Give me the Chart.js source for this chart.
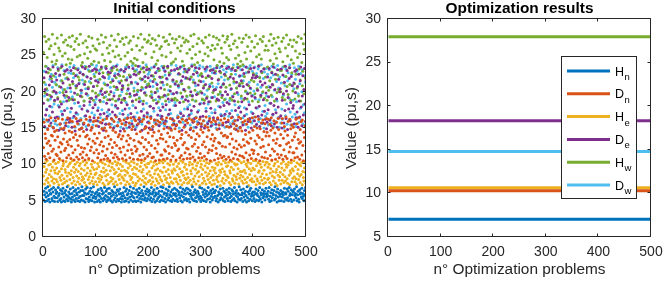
<!DOCTYPE html>
<html><head><meta charset="utf-8">
<script src="https://cdn.jsdelivr.net/npm/chart.js@4/dist/chart.umd.min.js"></script>
<style>
html,body{margin:0;padding:0;background:#fff;overflow:hidden;}
#wrap{position:relative;width:664px;height:281px;overflow:hidden;}
#c1{position:absolute;left:-13px;top:0;}
#c2{position:absolute;left:332px;top:0;}
</style></head><body>
<div id="wrap"><canvas id="c1" width="345" height="281"></canvas><canvas id="c2" width="332" height="281"></canvas></div>
<script>
// ---- Data ----
const xTicks = [0,100,200,300,400,500];
const yTicksLeft = [0,5,10,15,20,25,30];
const yTicksRight = [5,10,15,20,25,30];
const seriesNames = ['Hn','Dn','He','De','Hw','Dw'];
const legendMain = ['H','D','H','D','H','D'];
const legendSub = ['n','n','e','e','w','w'];

// Initial conditions (500 optimization problems each)
const initHn = [
5.1,6.3,5.8,4.9,6.7,5.5,6.1,5.0,6.9,5.7,5.2,6.4,4.8,6.0,5.9,6.6,5.3,5.0,6.2,6.8,5.6,4.9,5.4,6.5,6.0,
6.2,5.4,4.9,6.8,5.7,6.0,5.1,6.5,5.3,4.8,6.3,5.9,6.7,5.0,5.5,6.1,4.9,6.4,5.8,5.2,6.9,5.6,5.0,6.2,5.4,
5.9,6.6,5.2,4.8,6.0,5.5,6.8,5.1,6.3,5.7,4.9,6.5,5.3,6.1,5.8,5.0,6.7,5.4,6.2,4.9,5.6,6.4,5.1,6.9,5.7,
6.4,5.0,5.7,6.1,4.8,6.6,5.3,5.9,6.8,5.2,6.0,4.9,5.5,6.3,5.1,6.7,5.8,5.0,6.2,5.4,6.9,5.6,4.8,6.0,5.3,
5.5,6.2,4.9,5.8,6.5,5.1,6.0,5.6,4.8,6.7,5.3,6.4,5.9,5.0,6.1,5.4,6.8,5.2,5.7,6.3,4.9,6.6,5.5,5.1,6.0,
6.7,5.3,6.0,5.0,5.6,6.4,4.8,6.2,5.8,5.1,6.9,5.4,6.1,4.9,5.7,6.5,5.2,6.3,5.0,5.9,6.6,5.3,6.0,4.8,5.6,
5.2,6.1,5.7,6.8,4.9,5.4,6.3,5.0,6.6,5.8,5.3,6.0,4.8,6.4,5.5,6.9,5.1,5.9,6.2,5.6,4.9,6.7,5.4,6.1,5.0,
6.0,4.9,6.5,5.5,6.2,5.0,5.8,6.7,5.3,6.1,4.8,5.6,6.4,5.2,6.0,5.7,6.9,5.1,5.4,6.3,5.9,5.0,6.6,5.3,6.2,
5.7,6.4,5.1,6.0,5.4,6.8,4.9,5.9,6.2,5.2,6.5,5.6,4.8,6.1,5.8,5.0,6.7,5.3,6.0,5.5,6.3,4.9,5.7,6.9,5.1,
6.3,5.5,6.8,5.0,5.9,6.1,5.3,4.8,6.6,5.7,6.0,5.1,6.4,5.4,6.9,5.8,5.0,6.2,5.6,4.9,6.5,5.2,6.0,5.8,6.7,
5.0,6.0,5.6,6.5,5.2,4.9,6.3,5.8,6.1,5.4,6.8,5.0,5.7,6.2,4.8,6.6,5.5,6.0,5.1,6.4,5.9,5.3,6.7,5.0,6.1,
6.6,5.2,5.9,4.8,6.4,5.6,6.0,5.3,6.9,5.1,5.8,6.2,5.0,6.5,5.4,6.1,4.9,5.7,6.3,5.5,6.0,5.2,6.8,5.6,4.9,
5.4,6.7,5.1,6.2,5.8,5.0,6.5,5.5,6.0,4.9,6.3,5.7,5.2,6.8,5.9,6.1,5.3,4.8,6.4,5.6,6.0,5.1,6.6,5.4,6.2,
6.1,5.6,6.4,5.0,5.3,6.9,5.7,4.8,6.2,5.9,5.1,6.6,5.4,6.0,5.8,5.2,6.7,5.0,6.3,5.5,4.9,6.1,5.7,6.5,5.3,
5.8,5.0,6.2,6.7,5.4,6.0,4.9,5.6,6.5,5.1,6.3,5.9,5.3,6.8,5.0,6.1,5.7,6.4,4.8,5.5,6.0,5.2,6.9,5.8,5.1,
6.5,5.3,5.8,6.1,4.9,6.6,5.5,6.0,5.1,6.3,5.7,4.8,6.9,5.4,6.2,5.0,5.9,6.4,5.2,6.7,5.6,6.0,5.0,6.2,5.7,
5.3,6.2,4.9,5.9,6.6,5.1,6.0,5.7,6.4,5.0,5.5,6.8,5.2,6.1,5.8,4.8,6.5,5.4,6.0,5.6,6.3,5.1,5.9,6.7,5.5,
6.0,5.7,6.3,5.2,6.8,4.9,5.6,6.1,5.0,6.5,5.4,6.0,5.8,6.4,5.1,6.9,5.3,5.7,6.2,4.8,6.6,5.5,6.1,5.0,5.9,
5.6,6.4,5.0,6.0,5.5,6.2,5.8,4.9,6.7,5.3,6.1,5.9,5.1,6.6,5.4,6.3,5.0,6.8,5.7,6.0,5.2,6.5,4.9,5.8,6.3,
6.2,5.1,6.6,5.7,6.0,5.4,6.9,5.0,5.8,6.3,5.2,4.8,6.5,5.9,6.1,5.5,6.7,5.3,6.0,5.6,5.0,6.4,5.8,6.8,5.2];

const initDn = [
12.3,15.8,11.1,14.2,13.6,10.7,16.1,12.9,14.8,11.5,13.2,15.3,10.9,12.6,16.4,14.0,11.8,13.9,15.1,12.1,10.6,14.5,13.3,16.0,11.4,
14.7,11.2,13.8,16.3,12.4,10.8,15.5,13.0,11.7,14.9,12.8,16.2,10.5,13.5,15.0,11.9,14.3,12.2,15.7,10.9,13.1,16.4,12.7,11.3,14.6,
13.4,16.0,10.8,12.5,14.4,15.9,11.6,13.7,10.6,15.2,12.0,14.1,16.3,11.0,13.3,15.6,12.6,10.7,14.8,13.9,11.4,16.1,12.3,15.0,10.9,
11.7,14.5,15.7,12.2,10.6,13.8,16.2,11.3,14.0,12.8,15.4,10.8,13.5,16.5,11.9,14.7,12.4,15.1,10.5,13.2,15.9,11.6,14.2,12.9,16.0,
15.3,12.0,13.6,10.9,16.4,11.5,14.3,12.7,15.8,10.6,13.1,14.9,11.8,16.1,12.5,10.7,15.0,13.7,11.2,14.6,16.3,12.1,10.8,13.9,15.5,
12.8,10.5,15.1,13.4,11.6,16.2,12.3,14.7,10.9,15.9,13.0,11.4,14.4,16.5,12.6,11.0,15.3,13.8,10.7,14.1,12.2,16.0,11.7,13.5,15.6,
10.8,13.9,12.4,16.1,14.6,11.3,15.4,10.6,13.2,16.3,11.9,14.0,12.7,15.7,10.9,13.6,16.4,12.0,14.8,11.5,15.2,10.7,13.3,16.2,12.5,
16.0,11.8,14.2,12.1,10.7,15.6,13.1,16.4,11.2,14.5,12.9,10.6,15.9,13.7,11.4,16.2,12.4,14.9,10.8,13.4,15.1,12.0,16.5,11.1,14.3,
13.0,15.7,11.5,14.8,16.3,12.6,10.9,13.9,15.2,11.0,14.4,16.1,12.2,10.5,15.5,13.3,11.7,16.0,12.8,14.6,10.6,15.8,13.6,11.3,14.1,
11.3,16.2,13.5,10.7,14.9,12.0,15.6,11.8,13.1,16.4,10.8,14.3,12.5,15.0,11.5,13.8,16.3,10.6,14.7,12.3,15.4,11.1,13.7,16.0,12.9,
14.9,12.6,10.6,15.4,13.3,11.9,16.5,12.1,14.5,10.9,15.8,13.6,11.2,14.1,16.2,12.7,10.7,15.1,13.0,11.6,16.0,14.4,12.2,10.8,15.7,
12.1,14.0,16.3,11.4,10.8,15.0,13.7,16.1,12.5,11.0,14.6,15.9,12.8,10.6,13.4,16.4,11.8,14.2,15.5,12.3,10.9,13.9,16.2,11.5,14.8,
15.6,10.9,12.7,14.4,16.0,13.1,11.1,15.3,12.4,16.5,10.7,13.8,15.1,11.6,14.7,12.0,16.3,10.5,13.5,15.8,11.9,14.1,12.6,16.1,13.2,
10.6,13.6,15.9,12.2,11.5,14.8,16.4,10.8,13.0,15.4,12.9,11.3,16.1,14.3,10.9,12.5,15.7,13.9,11.1,16.3,14.0,12.4,10.7,15.2,13.7,
13.8,16.1,11.0,15.1,12.8,10.6,14.2,16.4,11.7,13.5,15.6,10.8,12.3,14.9,16.0,11.4,13.2,15.3,12.1,10.7,14.6,16.5,12.7,11.2,15.0,
16.3,12.4,14.6,11.1,15.8,13.4,10.9,12.6,16.0,14.1,11.6,15.5,13.1,10.6,16.2,12.9,14.4,11.3,15.9,13.6,10.8,12.0,16.4,14.7,11.5,
11.9,15.2,13.2,16.5,10.7,12.8,15.0,14.0,11.4,16.2,13.7,10.5,14.9,12.3,15.7,11.0,13.4,16.1,12.5,14.5,10.9,15.6,11.7,13.9,16.3,
14.4,10.8,16.2,12.7,13.9,15.5,11.2,14.7,16.4,10.6,12.1,15.0,13.3,16.0,11.8,14.3,10.7,12.9,15.8,13.5,11.4,16.3,14.8,10.9,12.6,
12.6,14.1,11.3,15.7,16.3,10.7,13.6,12.0,15.2,14.6,11.1,16.5,12.8,10.8,14.0,15.9,13.0,11.7,16.2,12.4,14.9,10.6,15.4,13.3,11.6,
15.1,11.6,13.8,10.9,14.3,16.2,12.2,15.6,11.0,13.4,16.4,12.9,10.7,14.8,13.1,15.9,11.3,16.1,12.6,10.5,14.4,13.7,15.3,11.8,16.0];

const initHe = [
8.4,9.7,7.3,10.2,8.9,7.8,9.3,10.5,8.1,7.5,9.9,8.6,7.1,10.0,9.1,8.3,7.7,9.6,10.4,8.0,7.4,9.2,8.8,10.1,7.9,
9.5,7.6,8.7,10.3,7.2,9.0,8.2,10.6,7.8,9.4,8.5,7.3,9.8,10.1,8.0,7.5,9.3,8.9,10.4,7.7,8.4,9.7,7.1,8.8,10.0,
7.9,10.2,8.6,9.1,7.4,10.5,8.2,9.6,7.7,8.9,10.0,7.2,9.3,8.4,10.3,7.6,9.0,8.1,9.8,7.3,10.1,8.7,9.4,7.8,8.3,
10.4,8.0,9.2,7.5,9.9,8.5,7.1,10.2,8.8,9.5,7.9,10.6,8.3,7.4,9.1,8.7,10.0,7.7,9.6,8.2,7.3,9.3,10.3,8.6,7.6,
8.8,9.4,7.2,10.1,8.1,9.7,7.6,8.5,10.4,7.9,9.0,8.3,10.2,7.4,9.5,8.9,7.1,10.0,8.4,9.2,7.8,10.5,8.6,7.3,9.8,
7.5,10.3,9.1,8.2,7.7,9.6,10.1,8.0,7.3,9.3,8.7,10.4,7.6,8.9,9.9,7.2,10.2,8.4,9.4,7.9,8.6,10.0,7.4,9.1,8.3,
9.7,8.1,10.5,7.8,9.2,8.5,7.2,10.3,9.0,7.6,8.8,9.5,10.1,7.3,8.4,9.8,7.9,10.4,8.2,9.3,7.5,8.7,10.2,9.6,7.1,
8.6,7.4,9.4,10.0,8.3,7.7,10.6,9.1,8.0,9.7,7.2,10.2,8.9,7.8,9.3,8.4,10.5,7.5,9.9,8.1,7.3,9.6,8.7,10.1,7.6,
10.1,9.0,7.8,8.5,10.4,7.3,9.5,8.2,7.6,9.8,10.3,8.7,7.1,9.2,8.0,10.0,7.7,9.4,8.6,7.4,10.2,8.3,9.1,7.9,10.5,
7.7,8.9,10.2,7.2,9.6,8.4,10.5,7.9,9.0,8.1,7.5,10.1,9.3,8.6,7.3,9.9,8.2,10.4,7.6,9.1,8.8,7.4,10.0,9.4,8.0,
9.2,10.4,8.0,7.6,9.7,8.6,7.3,10.1,8.3,9.4,7.8,10.5,8.9,7.2,9.0,10.3,8.5,7.5,9.6,8.1,10.0,7.9,9.3,8.7,7.4,
8.2,7.5,9.9,10.3,7.8,9.1,8.7,7.2,10.0,9.5,8.0,7.6,10.4,8.4,9.3,7.3,9.8,8.8,10.2,7.7,9.0,8.3,7.1,10.5,9.6,
10.0,8.6,7.4,9.3,8.1,10.5,7.7,9.8,8.9,7.3,10.2,8.4,9.5,7.9,8.7,10.1,7.5,9.1,8.2,10.4,7.2,9.6,8.5,7.8,9.2,
7.3,9.5,8.8,10.1,7.9,8.3,9.9,7.6,10.3,8.5,9.2,7.1,8.9,10.0,7.7,9.4,8.1,10.5,7.4,9.0,8.6,10.2,7.8,9.7,8.4,
9.8,8.2,10.3,7.5,9.1,8.8,7.2,9.6,10.4,8.0,7.7,9.3,8.5,10.1,7.4,9.9,8.3,7.9,10.0,8.7,9.4,7.3,10.5,8.1,9.0,
8.5,10.2,7.7,9.0,8.3,7.4,10.4,9.2,7.9,8.8,10.0,7.5,9.7,8.2,10.3,7.1,9.4,8.6,7.8,10.1,9.1,8.0,7.6,9.5,10.5,
7.6,9.3,8.4,10.5,7.2,9.8,8.0,7.7,10.2,8.9,9.1,7.4,10.0,8.3,9.6,7.8,8.7,10.4,7.3,9.2,8.1,9.9,7.5,10.3,8.6,
10.3,7.9,9.6,8.1,10.0,7.5,8.8,9.4,7.2,10.5,8.4,9.0,7.7,9.8,8.2,10.1,7.4,8.9,9.3,7.1,10.4,8.5,9.7,7.8,8.3,
8.9,7.3,10.1,9.5,7.8,8.6,10.4,7.5,9.2,8.3,7.7,10.0,9.6,8.0,7.4,9.9,10.3,8.5,7.2,9.1,8.8,10.2,7.6,9.4,8.1,
9.1,10.5,8.3,7.6,9.7,8.0,7.3,10.2,8.7,9.3,7.9,10.0,8.4,7.5,9.8,8.6,10.3,7.2,9.0,8.2,7.7,9.5,10.4,8.9,7.4];

const initDe = [
18.4,21.9,15.2,20.3,16.8,22.7,17.5,19.6,14.9,23.2,16.1,20.9,18.0,22.1,15.7,19.3,21.4,17.2,23.4,15.0,20.1,18.8,16.4,22.5,19.9,
21.6,16.5,19.0,23.1,14.7,17.9,22.3,15.6,20.6,18.3,23.5,16.9,21.2,14.8,19.5,17.4,22.8,15.3,20.0,18.7,23.0,16.2,21.7,19.2,15.8,
16.3,20.5,22.9,17.7,15.1,21.4,18.9,23.3,16.6,19.8,14.6,22.2,17.1,20.8,15.9,23.0,18.5,21.1,16.0,22.6,19.4,14.9,20.2,17.6,23.4,
22.4,15.5,18.1,21.0,23.2,16.7,19.7,14.8,22.0,17.3,20.4,15.4,23.5,18.6,16.1,21.8,19.1,15.0,22.9,17.8,20.7,16.4,23.1,18.2,21.5,
19.3,23.0,16.0,17.4,21.3,15.2,22.5,18.8,16.9,20.1,23.4,15.7,19.6,22.1,14.7,17.0,21.9,19.9,15.5,23.2,18.4,16.6,20.9,22.7,17.5,
15.6,18.9,22.6,20.0,16.3,23.3,17.2,21.5,15.0,19.4,22.2,16.8,18.1,23.5,20.6,15.3,17.7,22.4,19.0,16.2,21.2,14.6,23.0,18.5,20.3,
20.8,16.9,14.9,22.8,19.1,17.6,23.1,15.8,21.6,18.2,16.4,20.4,23.4,15.1,19.7,22.0,17.0,21.3,15.6,18.7,23.2,16.5,22.4,19.5,14.8,
17.8,22.3,19.6,15.4,21.1,23.5,16.2,18.6,22.7,15.9,20.2,17.3,14.7,21.7,18.3,23.3,16.7,19.8,22.1,15.2,20.6,23.0,17.1,15.8,21.9,
23.1,15.0,20.7,18.0,16.5,22.2,19.2,14.8,21.4,17.7,23.4,16.1,19.9,22.6,15.6,18.4,21.0,16.8,23.2,19.3,15.3,22.0,17.4,20.5,16.3,
16.6,21.3,17.9,23.3,15.7,19.5,22.8,16.0,18.2,21.8,15.1,23.5,19.0,16.9,22.3,17.5,20.1,14.9,22.9,18.8,16.2,21.6,19.7,15.5,23.0,
21.1,18.1,15.3,19.9,23.2,16.4,20.8,22.5,15.9,18.5,23.4,17.0,21.5,14.7,19.3,22.1,16.7,20.3,23.1,15.4,18.9,21.9,16.1,22.7,17.6,
18.7,23.0,16.8,21.7,14.8,20.0,17.4,23.5,19.4,15.8,22.4,18.0,16.3,21.2,23.3,15.1,19.6,22.6,17.2,20.9,15.7,23.2,18.3,16.5,21.4,
15.2,19.8,22.1,16.6,20.5,18.4,15.0,23.1,21.0,17.3,19.1,23.4,15.6,22.2,18.6,16.0,20.7,22.9,17.7,15.3,21.8,19.2,23.0,16.4,20.2,
22.6,17.1,20.3,15.5,23.3,19.0,16.2,21.6,18.8,14.9,22.8,17.9,20.6,16.7,23.5,19.5,15.4,21.1,18.1,22.4,16.9,20.0,15.8,23.2,18.5,
19.6,15.9,23.4,18.3,17.0,22.0,15.2,20.4,23.1,16.5,19.3,21.8,15.6,18.7,22.9,17.4,14.8,21.3,19.9,16.1,23.3,17.8,20.8,22.2,15.1,
17.2,21.5,18.6,23.0,15.4,20.7,22.5,16.7,19.1,14.7,23.4,17.6,21.0,19.7,15.9,22.7,18.2,16.3,20.5,23.2,15.0,19.4,21.9,17.0,22.3,
23.3,16.0,19.2,21.9,17.8,15.5,22.1,20.2,16.6,23.5,18.0,15.2,21.4,19.5,22.8,16.8,20.9,15.7,18.9,23.1,17.3,21.2,16.2,19.8,14.9,
15.8,22.0,17.5,19.3,23.2,16.1,20.6,18.4,15.3,22.6,21.0,16.9,23.4,18.1,15.6,20.3,22.4,17.1,19.0,15.1,23.0,17.9,21.7,16.4,20.0,
20.4,16.7,23.1,15.0,18.8,22.3,19.7,15.7,21.3,17.4,23.5,16.3,20.1,22.9,14.8,19.2,17.6,21.8,23.3,16.0,18.5,22.1,15.4,20.8,17.7,
18.1,21.2,15.6,22.8,19.9,16.4,23.0,17.2,20.7,15.1,22.4,18.7,16.5,21.5,23.4,17.9,15.3,19.4,22.2,16.8,20.3,23.2,18.3,15.9,21.6];

const initHw = [
25.4,21.3,27.6,19.8,23.5,26.9,20.4,24.7,18.9,22.6,27.2,25.9,19.5,23.0,26.3,21.8,24.1,27.9,20.0,22.2,25.1,18.7,26.6,23.8,21.0,
24.3,27.4,19.2,22.9,26.0,20.7,25.6,18.6,23.3,27.8,21.5,24.9,19.9,26.8,22.4,20.3,25.3,27.1,23.7,19.4,21.9,26.4,24.5,18.8,27.5,
20.9,23.9,26.2,19.0,24.4,27.7,21.1,22.5,25.8,18.9,26.9,23.2,20.5,27.3,24.8,19.6,22.0,26.5,21.6,25.0,27.9,20.2,23.6,19.3,24.0,
26.7,22.3,18.7,25.2,21.4,27.0,23.4,19.7,26.1,24.6,20.6,27.6,22.8,19.1,25.5,21.2,23.8,27.4,20.1,26.3,18.8,24.2,22.1,25.9,19.8,
22.7,25.7,20.8,27.2,19.5,24.0,26.6,21.7,18.6,23.1,27.8,20.4,25.1,22.6,26.8,19.2,24.3,21.0,27.5,23.5,20.0,26.0,18.9,22.4,25.3,
19.6,26.4,24.1,21.3,27.7,22.9,19.0,25.6,23.3,20.7,27.1,24.8,18.7,21.9,26.2,23.0,20.3,27.9,25.0,19.4,22.2,26.9,24.5,21.5,18.9,
27.3,20.5,22.1,26.5,18.8,24.9,21.6,27.5,19.7,23.7,25.4,20.9,26.7,22.3,19.3,27.0,24.2,21.2,25.8,18.6,23.9,27.6,20.1,24.6,22.8,
23.6,18.9,26.3,24.4,20.2,27.4,22.5,19.1,25.7,21.8,27.9,23.1,20.6,26.1,24.0,18.7,22.7,27.2,21.4,25.2,19.5,23.4,26.8,20.8,27.0,
21.1,27.8,23.0,19.4,26.6,20.0,24.7,27.3,22.2,18.8,25.5,21.7,27.1,19.9,23.8,26.4,20.4,24.3,18.6,27.7,22.9,25.9,19.2,21.3,26.2,
25.0,22.0,19.3,27.5,23.5,20.3,26.9,18.7,24.8,27.0,21.0,23.3,19.6,26.5,22.6,27.9,20.7,25.4,23.9,19.0,27.3,21.6,24.1,18.9,26.7,
19.1,24.5,27.2,21.4,18.8,26.0,23.1,20.9,27.6,22.4,25.6,19.8,26.3,21.1,24.2,27.4,18.6,23.6,26.8,20.1,22.8,27.1,19.4,25.3,21.8,
26.9,20.6,23.2,25.8,19.5,27.7,22.0,24.6,18.9,26.2,21.3,27.9,23.7,20.2,25.1,18.7,22.7,26.6,24.0,19.7,27.3,21.5,25.5,22.3,20.0,
22.5,27.0,19.0,24.3,26.7,20.8,18.8,25.2,27.5,21.9,23.4,19.3,26.1,24.9,20.4,27.8,22.1,18.6,25.7,23.0,21.2,26.4,19.9,27.6,24.4,
20.3,25.9,22.8,18.7,27.4,23.6,26.5,19.6,21.7,27.1,24.1,20.0,22.6,26.0,19.2,25.3,27.7,21.0,23.9,18.9,26.8,22.2,20.6,24.7,27.2,
27.6,21.8,24.4,26.3,20.9,19.1,25.8,22.4,27.9,18.8,23.3,26.6,21.4,19.7,27.0,24.6,22.9,20.5,26.1,23.8,18.6,25.0,27.4,21.1,23.5,
24.2,19.4,26.8,21.2,23.7,27.3,18.9,22.1,25.4,20.1,27.8,24.5,19.0,26.2,22.7,20.8,27.5,23.1,19.8,25.6,21.6,26.9,18.7,24.0,22.5,
21.4,26.1,19.7,27.7,22.2,24.8,20.4,26.6,18.6,23.6,25.1,21.9,27.2,19.3,24.5,22.6,26.9,20.0,27.6,23.2,19.1,25.7,22.0,26.3,20.6,
18.8,23.4,25.7,20.2,27.0,21.5,24.3,27.9,19.5,22.7,26.4,20.9,23.8,27.3,18.7,25.2,21.7,26.7,24.6,19.9,22.3,27.5,20.3,25.9,23.0,
25.5,20.0,22.9,26.9,19.2,24.1,27.4,21.2,23.5,18.9,26.0,22.1,27.8,20.7,24.9,19.6,26.5,23.3,21.0,27.1,18.8,24.4,22.6,26.2,20.1,
23.9,27.1,21.1,19.0,25.6,22.4,26.8,20.5,24.7,27.6,19.4,23.1,25.2,21.6,18.7,27.3,24.0,20.8,22.8,26.6,19.7,25.8,27.9,21.9,25.5];

const initDw = [
16.2,22.8,19.4,15.1,21.0,23.5,17.6,20.2,15.9,18.8,23.1,16.7,21.7,19.0,15.3,22.4,17.9,20.6,23.6,16.0,18.3,21.3,15.6,22.0,19.7,
20.9,15.4,23.3,18.1,16.5,22.2,19.9,15.0,21.5,17.3,23.7,16.8,20.3,18.6,22.9,15.7,19.2,21.8,16.1,23.0,17.7,20.5,15.2,22.6,18.9,
23.4,17.2,20.0,22.5,15.8,19.3,16.4,21.9,23.6,18.4,15.1,20.8,17.0,22.3,19.6,16.9,23.2,15.5,21.2,18.0,22.7,16.3,19.8,15.0,21.6,
15.7,21.1,18.7,16.6,23.5,20.4,15.2,22.1,17.4,19.5,23.0,16.0,21.4,18.2,15.9,22.8,19.1,17.1,23.7,15.4,20.7,22.4,16.8,18.5,23.3,
19.0,23.6,15.3,21.6,17.8,15.9,22.9,19.7,16.4,20.1,23.2,17.5,15.0,22.0,18.6,21.2,16.2,23.4,19.3,15.6,20.9,17.2,22.6,16.7,21.8,
22.1,16.9,20.6,23.1,15.5,18.2,21.7,16.1,23.5,19.8,15.2,22.5,17.9,20.3,16.6,23.7,18.8,15.8,21.4,22.8,17.0,19.5,15.1,23.0,20.0,
17.4,20.8,15.6,19.1,22.7,16.3,23.4,18.5,15.0,21.9,20.2,16.8,23.3,17.7,15.4,22.2,19.4,21.1,16.0,23.6,18.1,15.3,20.5,22.9,16.5,
21.3,15.1,23.0,17.1,20.0,22.6,15.7,19.2,23.5,16.2,18.7,21.6,15.5,23.2,20.4,17.6,16.4,22.0,19.9,15.0,23.7,18.4,21.0,16.9,22.4,
15.9,22.7,18.0,21.5,16.6,23.3,19.6,15.2,20.7,22.1,17.3,15.8,23.6,18.9,21.2,16.1,22.8,20.1,15.4,17.8,23.1,19.0,16.7,21.9,15.6,
23.5,18.3,16.0,20.9,23.0,15.3,22.3,17.5,19.4,15.9,21.7,23.4,16.8,20.2,18.6,15.1,22.5,17.0,23.7,19.7,16.3,21.4,15.7,18.1,22.9,
18.5,21.0,23.6,15.5,19.8,16.7,22.4,20.6,15.0,23.2,17.2,21.3,16.4,19.1,23.5,15.8,20.3,22.7,17.6,15.2,21.8,23.0,16.1,19.3,17.9,
16.6,23.1,20.5,18.2,15.4,22.0,17.0,23.7,19.5,16.2,21.6,15.1,22.9,18.7,20.8,16.5,23.3,15.9,19.9,22.2,17.4,15.6,23.6,20.0,18.4,
22.3,15.6,18.9,23.4,21.4,16.0,19.6,15.3,22.8,17.7,23.0,20.2,15.8,18.3,22.1,16.6,21.0,23.5,15.2,19.2,17.1,22.6,20.7,15.5,23.2,
19.3,17.5,22.5,15.0,20.6,23.6,16.3,21.1,18.0,15.7,23.3,19.7,16.9,22.0,15.4,20.9,18.5,23.0,16.7,21.6,15.1,19.0,22.7,17.3,23.5,
15.2,21.7,16.6,23.2,18.8,15.6,20.3,22.9,17.4,19.4,15.9,23.7,21.2,16.1,18.2,22.4,15.3,20.5,23.4,16.8,19.6,15.0,22.1,18.0,20.8,
23.0,19.1,15.8,22.2,16.4,21.5,23.5,17.8,15.5,20.0,22.6,16.9,19.9,23.3,15.1,18.6,21.3,16.2,23.6,20.4,17.2,15.7,22.8,19.5,16.0,
20.1,16.5,23.4,19.0,15.3,22.5,17.7,21.0,23.1,15.9,18.9,22.0,16.3,20.6,23.7,15.6,19.8,17.3,21.8,15.0,22.7,18.1,16.6,23.2,19.4,
17.0,22.4,15.4,20.7,23.0,18.4,16.1,21.9,15.7,23.5,19.3,16.8,22.3,15.2,20.2,23.3,17.5,15.9,21.4,18.7,23.6,16.4,20.5,15.1,22.0,
22.9,15.7,21.2,17.6,16.2,23.4,19.5,15.0,22.1,20.8,16.7,23.1,18.3,15.5,21.5,22.6,16.0,19.1,23.7,17.2,15.4,20.9,22.4,16.5,18.8,
15.5,20.4,23.3,16.9,21.7,15.2,18.6,22.8,16.4,19.7,23.5,15.8,21.1,17.7,22.5,16.1,20.0,23.0,15.6,18.2,22.2,17.1,15.3,21.3,23.6];

// Optimization results (constant over all problems)
const resultValues = [7.03, 10.31, 10.65, 18.34, 27.95, 14.8];

// ---- Styling ----
const FONT = "'Liberation Sans', Arial, Helvetica, sans-serif";
const AX = '#262626';
const colors = ['#0072BD','#D95319','#EDB120','#7E2F8E','#77AC30','#4DBEEE'];
const problems = initHn.map((_, i) => i + 1);

function toPoints(vals){ return vals.map((v,i)=>({x: problems[i], y: v})); }

const axesBox = {
  id: 'axesBox',
  afterDatasetsDraw(chart){
    const {ctx, chartArea:a, scales:{x, y}} = chart;
    const L = Math.round(a.left) - 0.5, R = Math.round(a.right) - 0.5;
    const T = Math.round(a.top) - 0.5, B = Math.round(a.bottom) - 0.5;
    ctx.save();
    ctx.strokeStyle = AX; ctx.lineWidth = 1;
    ctx.beginPath();
    ctx.rect(L, T, R - L, B - T);
    const tl = 3;
    x.ticks.forEach(t => {
      const px = Math.round(x.getPixelForValue(t.value)) - 0.5;
      ctx.moveTo(px, B); ctx.lineTo(px, B - tl);
      ctx.moveTo(px, T); ctx.lineTo(px, T + tl);
    });
    y.ticks.forEach(t => {
      const py = Math.round(y.getPixelForValue(t.value)) - 0.5;
      ctx.moveTo(L, py); ctx.lineTo(L + tl, py);
      ctx.moveTo(R, py); ctx.lineTo(R - tl, py);
    });
    ctx.stroke();
    ctx.restore();
  }
};

const subLegend = {
  id: 'subLegend',
  afterDraw(chart){
    const {ctx, chartArea:a} = chart;
    const w = 75, h = 142;
    const left = Math.round(a.right) - 89 - 0.5, top = Math.round(a.top) + 38 - 0.5;
    ctx.save();
    ctx.fillStyle = '#fff';
    ctx.fillRect(left, top, w, h);
    ctx.strokeStyle = AX; ctx.lineWidth = 1;
    ctx.strokeRect(left, top, w, h);
    chart.data.datasets.forEach((ds, i) => {
      const cy = top + 14.5 + i * 22.8;
      ctx.strokeStyle = ds.borderColor; ctx.lineWidth = 3;
      ctx.beginPath(); ctx.moveTo(left + 5.5, cy); ctx.lineTo(left + 48.5, cy); ctx.stroke();
      ctx.fillStyle = '#000';
      ctx.textBaseline = 'alphabetic'; ctx.textAlign = 'left';
      ctx.font = '12.5px ' + FONT;
      const tx = left + 53.5, by = cy + 4.5;
      ctx.fillText(legendMain[i], tx, by);
      const mw = ctx.measureText(legendMain[i]).width;
      ctx.font = '9.5px ' + FONT;
      ctx.fillText(legendSub[i], tx + mw + 0.5, by + 4.5);
    });
    ctx.restore();
  }
};

function makeOptions(title, yTicks, yTitlePad, padRight){
  return {
    responsive: false, animation: false, devicePixelRatio: 1,
    layout: {padding: {left: 0, right: padRight, top: 0, bottom: 0}},
    events: [],
    plugins: {
      legend: {display: false}, tooltip: {enabled: false},
      title: {display: true, text: title, fullSize: false, color: '#000',
        font: {family: FONT, size: 15.4, weight: 'bold'}, padding: {top: 0, bottom: 0.5}}
    },
    scales: {
      x: {type: 'linear', min: xTicks[0], max: xTicks[xTicks.length-1],
        grid: {display: false, drawTicks: false}, border: {display: false},
        afterBuildTicks: s => { s.ticks = xTicks.map(v => ({value: v})); },
        ticks: {color: AX, font: {family: FONT, size: 14}, padding: 6.5, maxRotation: 0, autoSkip: false},
        title: {display: true, text: 'n° Optimization problems', color: AX,
          font: {family: FONT, size: 15.4}, padding: {top: 0, bottom: 2}},
        afterFit: s => { s.height = 44; s.paddingLeft = 0; s.paddingRight = 0; }},
      y: {type: 'linear', min: yTicks[0], max: yTicks[yTicks.length-1],
        grid: {display: false, drawTicks: false}, border: {display: false},
        afterBuildTicks: s => { s.ticks = yTicks.map(v => ({value: v})); },
        ticks: {color: AX, font: {family: FONT, size: 14}, padding: 7, autoSkip: false},
        title: {display: true, text: 'Value (pu,s)', color: AX,
          font: {family: FONT, size: 15.4}, padding: {top: yTitlePad, bottom: 0}},
        afterFit: s => { s.width = 56; s.paddingTop = 0; s.paddingBottom = 0; }}
    }
  };
}

const initSeries = [initHn, initDn, initHe, initDe, initHw, initDw];
new Chart(document.getElementById('c1'), {
  type: 'scatter',
  data: {datasets: initSeries.map((vals, i) => ({
    label: seriesNames[i], data: toPoints(vals),
    backgroundColor: colors[i], borderColor: colors[i], borderWidth: 0,
    pointRadius: 1.5, pointHoverRadius: 1.5
  }))},
  options: makeOptions('Initial conditions', yTicksLeft, 12, 26),
  plugins: [axesBox]
});

new Chart(document.getElementById('c2'), {
  type: 'line',
  data: {datasets: resultValues.map((v, i) => ({
    label: seriesNames[i], data: problems.map(p => ({x: p, y: v})),
    borderColor: colors[i], backgroundColor: colors[i], borderWidth: 3,
    pointRadius: 0, fill: false, tension: 0
  }))},
  options: makeOptions('Optimization results', yTicksRight, 10.5, 13),
  plugins: [axesBox, subLegend]
});
</script>
</body></html>
